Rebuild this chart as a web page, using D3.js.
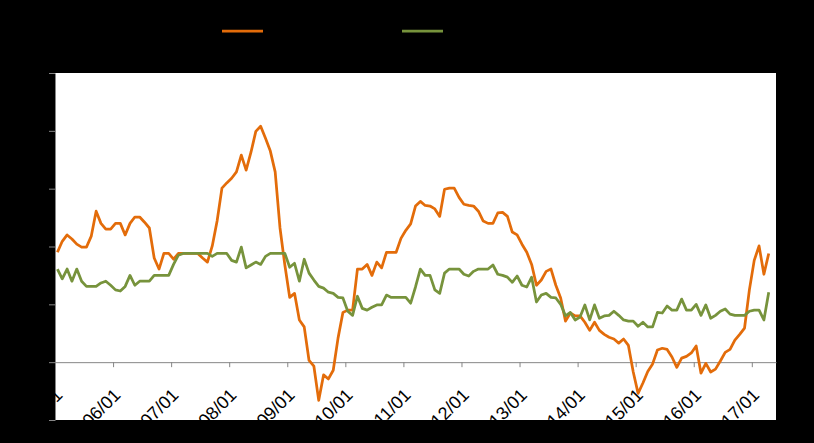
<!DOCTYPE html>
<html>
<head>
<meta charset="utf-8">
<script src="https://cdn.jsdelivr.net/npm/d3@7"></script>
<style>
  body { margin: 0; background: #000; }
  svg { display: block; }
</style>
</head>
<body>
<svg id="chart"></svg>
<script>
// monthly values, 2005/01 .. 2017/04
const seriesNames = ["系列1", "系列2"];
const orangeValues = [
  1.90, 2.09, 2.20, 2.13, 2.04, 1.99, 1.99, 2.18, 2.61, 2.40,
  2.30, 2.30, 2.40, 2.40, 2.20, 2.40, 2.51, 2.51, 2.42, 2.32,
  1.80, 1.61, 1.88, 1.88, 1.78, 1.88, 1.88, 1.88, 1.88, 1.88,
  1.80, 1.73, 2.01, 2.44, 3.01, 3.10, 3.18, 3.29, 3.58, 3.32,
  3.63, 3.99, 4.08, 3.87, 3.65, 3.29, 2.32, 1.68, 1.12, 1.19,
  0.73, 0.61, 0.03, -0.07, -0.66, -0.22, -0.29, -0.14, 0.42, 0.86,
  0.90, 0.90, 1.61, 1.61, 1.69, 1.50, 1.73, 1.63, 1.90, 1.90,
  1.90, 2.14, 2.28, 2.39, 2.70, 2.78, 2.71, 2.70, 2.65, 2.52,
  2.99, 3.01, 3.01, 2.85, 2.73, 2.71, 2.70, 2.61, 2.44, 2.40,
  2.40, 2.58, 2.59, 2.52, 2.25, 2.20, 2.04, 1.90, 1.69, 1.33,
  1.42, 1.57, 1.61, 1.33, 1.11, 0.71, 0.85, 0.80, 0.80, 0.69,
  0.55, 0.69, 0.55, 0.48, 0.43, 0.40, 0.33, 0.40, 0.29, -0.17,
  -0.54, -0.36, -0.16, -0.03, 0.21, 0.24, 0.22, 0.09, -0.09, 0.07,
  0.10, 0.16, 0.28, -0.19, -0.02, -0.17, -0.12, 0.02, 0.17, 0.22,
  0.38, 0.48, 0.59, 1.25, 1.76, 2.01, 1.52, 1.88
];
const greenValues = [
  1.61, 1.44, 1.61, 1.40, 1.61, 1.40, 1.31, 1.31, 1.31, 1.37,
  1.40, 1.33, 1.25, 1.23, 1.31, 1.50, 1.33, 1.40, 1.40, 1.40,
  1.50, 1.50, 1.50, 1.50, 1.69, 1.85, 1.88, 1.88, 1.88, 1.88,
  1.88, 1.88, 1.83, 1.88, 1.88, 1.88, 1.76, 1.73, 1.99, 1.63,
  1.68, 1.73, 1.69, 1.83, 1.88, 1.88, 1.88, 1.88, 1.64, 1.71,
  1.40, 1.78, 1.54, 1.42, 1.31, 1.28, 1.21, 1.19, 1.12, 1.11,
  0.88, 0.81, 1.14, 0.93, 0.90, 0.95, 0.99, 0.99, 1.16, 1.12,
  1.12, 1.12, 1.12, 1.02, 1.30, 1.61, 1.50, 1.50, 1.25, 1.19,
  1.54, 1.61, 1.61, 1.61, 1.52, 1.49, 1.57, 1.61, 1.61, 1.61,
  1.68, 1.52, 1.50, 1.47, 1.38, 1.49, 1.33, 1.30, 1.47, 1.04,
  1.16, 1.19, 1.12, 1.11, 1.00, 0.80, 0.86, 0.73, 0.78, 0.99,
  0.73, 0.99, 0.76, 0.80, 0.81, 0.88, 0.81, 0.73, 0.71, 0.71,
  0.62, 0.69, 0.61, 0.61, 0.86, 0.85, 0.97, 0.90, 0.90, 1.09,
  0.90, 0.90, 1.00, 0.81, 0.99, 0.76, 0.81, 0.88, 0.92, 0.83,
  0.81, 0.81, 0.81, 0.88, 0.90, 0.90, 0.73, 1.21
];
const xTickLabels = ["05/01", "06/01", "07/01", "08/01", "09/01", "10/01", "11/01",
                     "12/01", "13/01", "14/01", "15/01", "16/01", "17/01"];
const yTicks = [-1, 0, 1, 2, 3, 4, 5];
const axisMonths = 149;

const width = 814, height = 443;
const margin = { top: 73, right: 38, bottom: 23, left: 55 };
const colors = ["#E36C0A", "#77933C"];

const svg = d3.select("#chart").attr("width", width).attr("height", height);
svg.append("rect").attr("width", width).attr("height", height).attr("fill", "#000");

const x = d3.scaleLinear().domain([0, axisMonths]).range([margin.left, width - margin.right]);
const y = d3.scaleLinear().domain([-1, 5]).range([height - margin.bottom, margin.top]);

// plot area
svg.append("rect")
  .attr("x", x(0)).attr("y", y(5))
  .attr("width", x(axisMonths) - x(0)).attr("height", y(-1) - y(5))
  .attr("fill", "#fff");

// y axis
svg.append("g")
  .attr("transform", `translate(${x(0)},0)`)
  .call(d3.axisLeft(y).tickValues(yTicks).tickSize(6).tickSizeOuter(0))
  .call(g => g.selectAll("line, path").attr("stroke", "#868686"))
  .call(g => g.selectAll("text").attr("fill", "#000")
    .style("font-family", "'Liberation Sans', Arial, sans-serif").style("font-size", "16px"));

// x axis at zero
svg.append("g")
  .attr("transform", `translate(0,${y(0)})`)
  .call(d3.axisBottom(x)
    .tickValues(xTickLabels.map((d, k) => k * 12))
    .tickFormat((d, k) => xTickLabels[k])
    .tickSize(5).tickSizeOuter(0))
  .call(g => g.selectAll("line, path").attr("stroke", "#868686"))
  .call(g => g.selectAll("text")
    .attr("fill", "#000")
    .attr("x", 0).attr("y", 0).attr("dy", 0)
    .attr("text-anchor", "end")
    .attr("transform", "translate(8,34) rotate(-45)")
    .style("font-family", "'Liberation Sans', Arial, sans-serif")
    .style("font-size", "18px"));

// lines
const line = d3.line()
  .x((d, i) => x(i + 0.5))
  .y(d => y(d));

[orangeValues, greenValues].forEach((vals, k) => {
  svg.append("path")
    .datum(vals)
    .attr("fill", "none")
    .attr("stroke", colors[k])
    .attr("stroke-width", 2.75)
    .attr("stroke-linejoin", "round")
    .attr("d", line);
});

// legend
const legend = svg.append("g");
[222, 402].forEach((lx, k) => {
  legend.append("line")
    .attr("x1", lx).attr("x2", lx + 41)
    .attr("y1", 31).attr("y2", 31)
    .attr("stroke", colors[k]).attr("stroke-width", 2.75);
  legend.append("text")
    .attr("x", lx + 46).attr("y", 31).attr("dy", "0.35em")
    .attr("fill", "#000")
    .style("font-family", "'Noto Sans CJK SC', sans-serif").style("font-size", "15px")
    .text(seriesNames[k]);
});
</script>
</body>
</html>
